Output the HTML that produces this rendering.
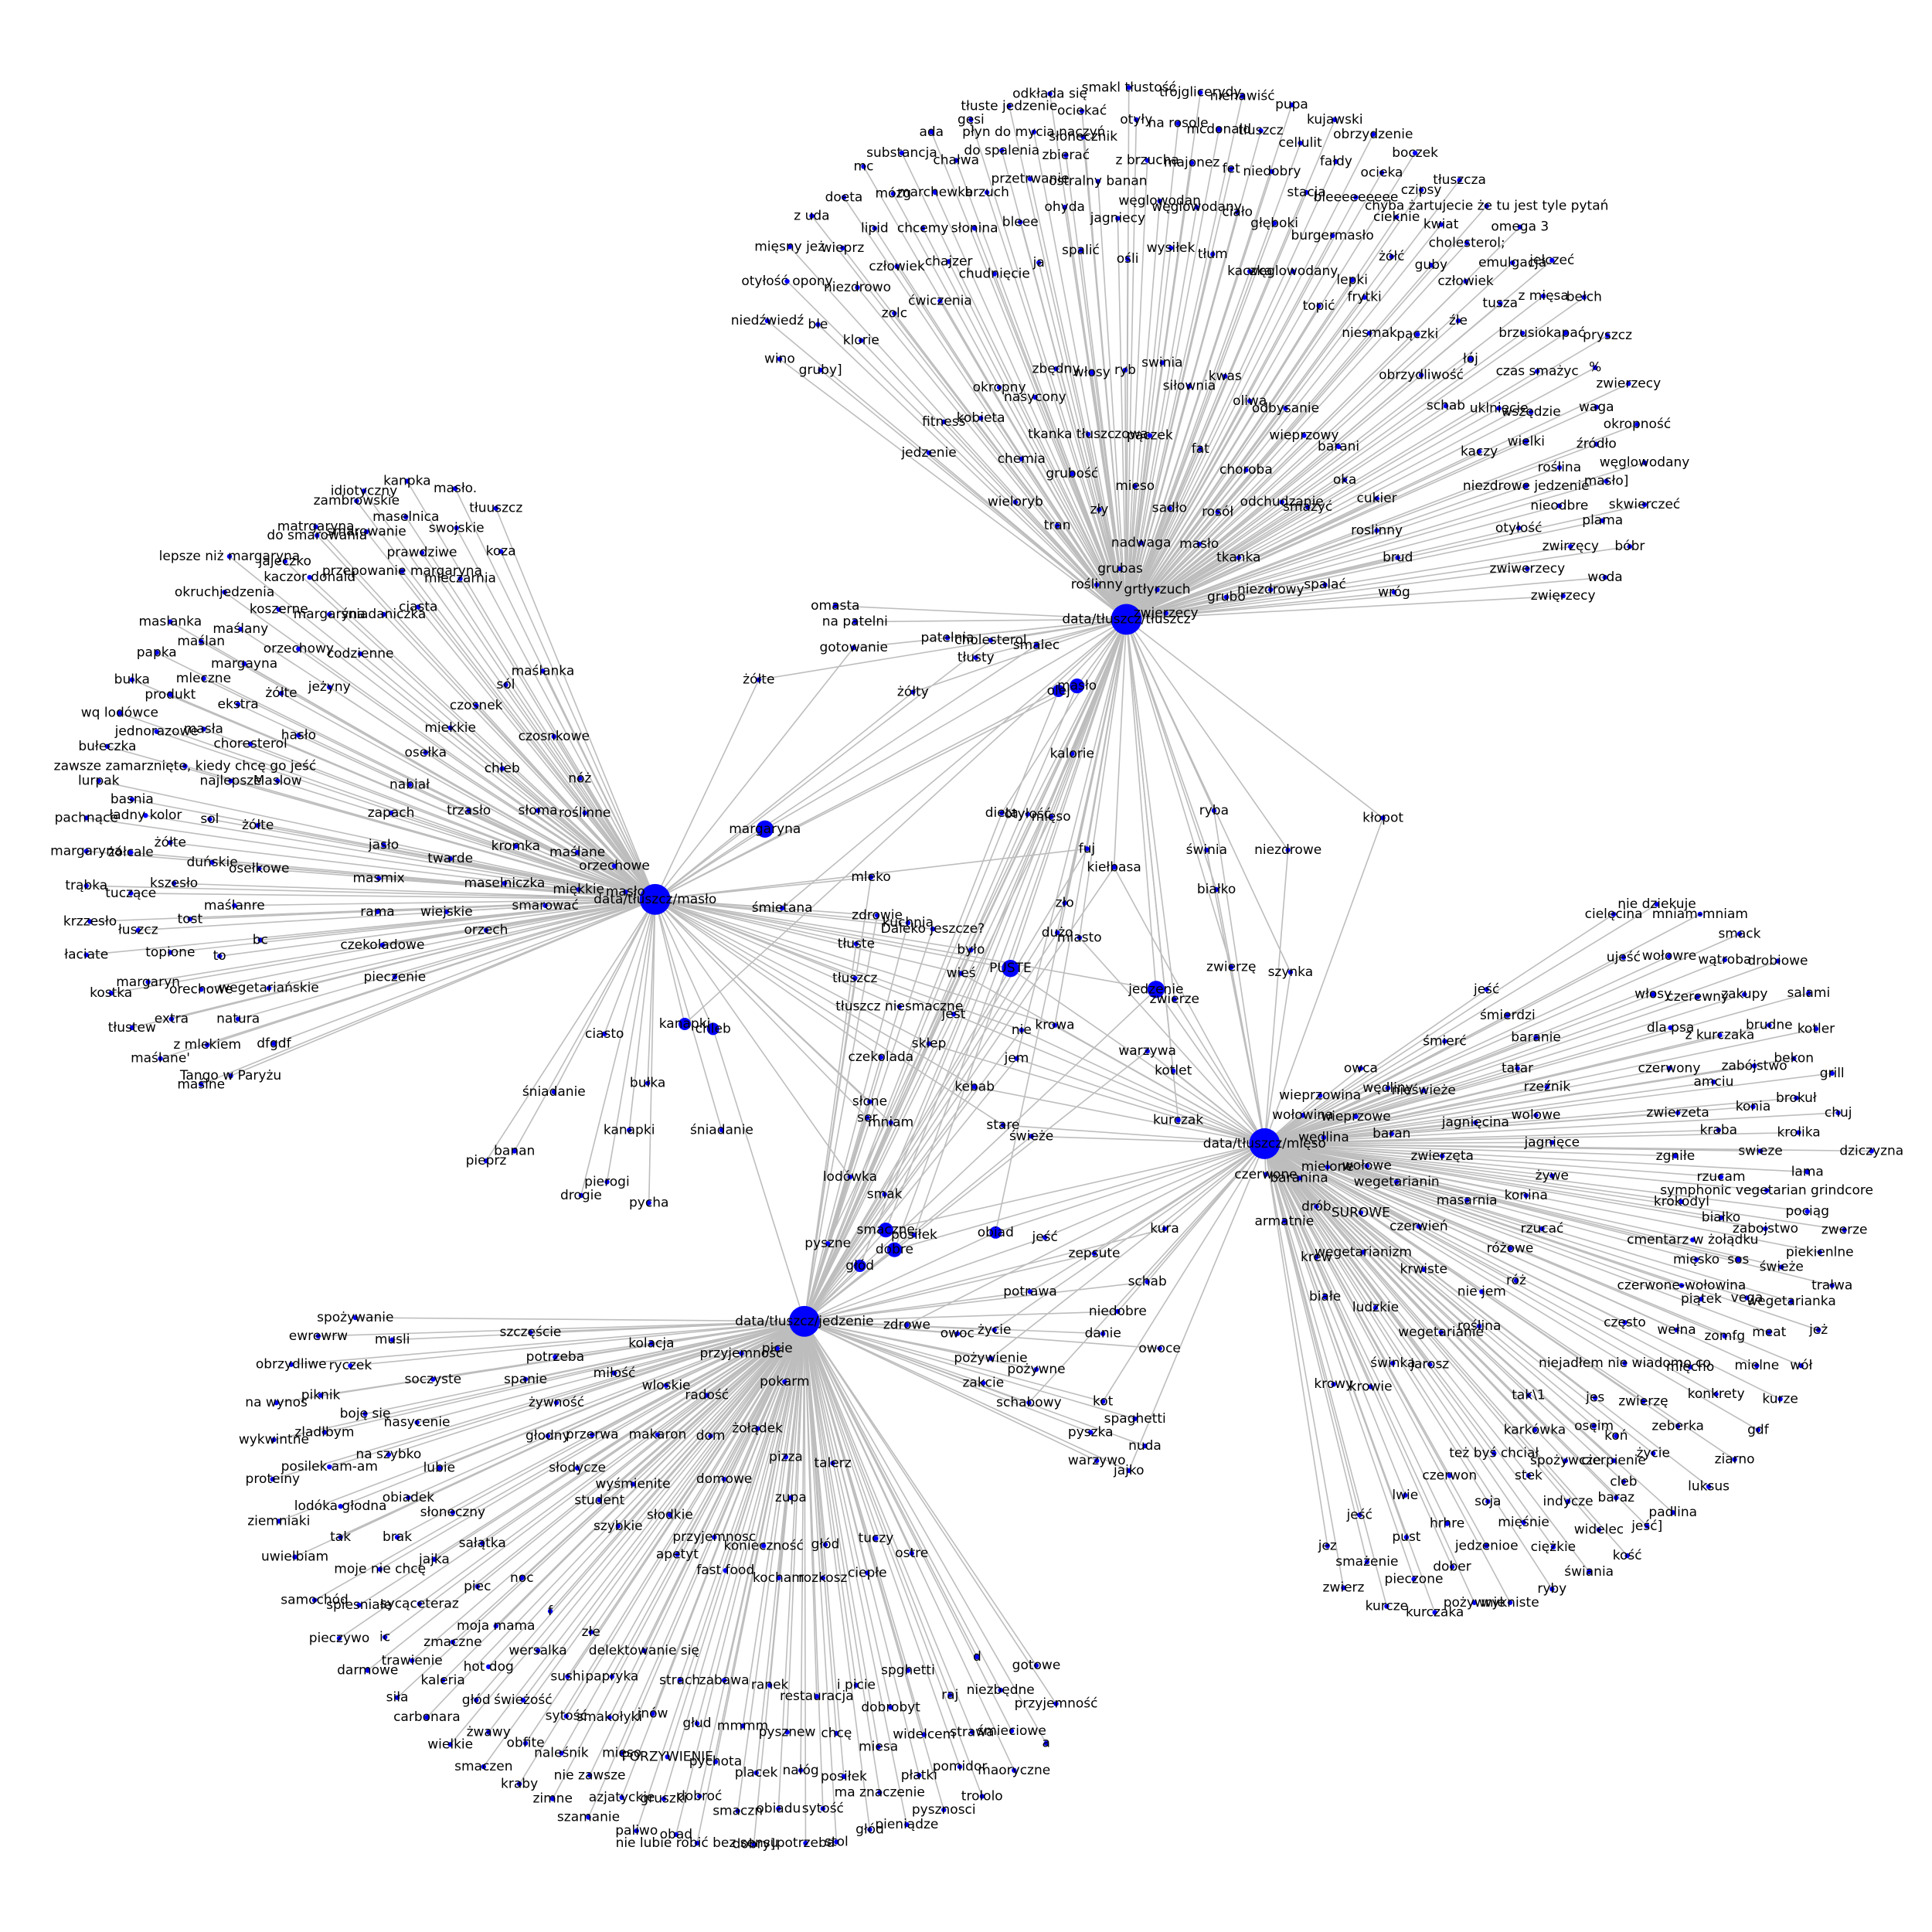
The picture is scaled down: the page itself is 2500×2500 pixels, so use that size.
<!DOCTYPE html>
<html><head><meta charset="utf-8"><style>
html,body{margin:0;padding:0;background:#fff;}
svg{display:block}
text{font-family:"DejaVu Sans","Liberation Sans",sans-serif;font-size:17px;fill:#000;text-anchor:middle;dominant-baseline:central}
</style></head><body>
<svg id="g" width="2500" height="2500" viewBox="0 0 2500 2500">
<g id="edges"></g>
<g id="dots"></g>
<g id="labels"></g>
</svg>
<script>
const hubLabels=["data/tłuszcz/tłuszcz","data/tłuszcz/masło","data/tłuszcz/mięso","data/tłuszcz/jedzenie"];
const hubX=[913,531,1025,652];
const hubY=[502,729,927,1071];
// nodes: label, layout x, layout y, connected hubs, size
const nodes=[
["smakl tłustość",915,71,[0]],["trójglicerydy",973,75,[0]],["nienawiść",1007,78,[0]],["pupa",1047,85,[0]],["odkłada się",851,76,[0]],["tłuste jedzenie",818,86,[0]],["ociekać",877,90,[0]],["otyły",921,97,[0]],["kujawski",1082,97,[0]],["gęsi",787,97,[0]],["na rosole",955,100,[0]],["mcdonald",988,105,[0]],["tłuszcz",1022,106,[0]],["obrzydzenie",1113,109,[0]],["ada",755,107,[0]],["płyn do mycia naczyń",838,107,[0]],["słonecznik",878,111,[0]],["cellulit",1054,116,[0]],["substancja",731,124,[0]],["do spalenia",812,122,[0]],["zbierać",864,126,[0]],["z brzucha",930,130,[0]],["majonez",966,132,[0]],["fałdy",1083,131,[0]],["boczek",1147,124,[0]],["chałwa",775,130,[0]],["mc",700,135,[0]],["fet",998,137,[0]],["niedobry",1031,139,[0]],["ocieka",1120,140,[0]],["tłuszcza",1183,146,[0]],["przetrwanie",835,145,[0]],["ostralny banan",890,147,[0]],["marchewka",758,156,[0]],["mózg",724,157,[0]],["brzuch",800,156,[0]],["stacja",1059,156,[0]],["bleeeeeeeee",1099,160,[0]],["czipsy",1152,154,[0]],["doeta",684,160,[0]],["chyba żartujecie że tu jest tyle pytań",1205,167,[0]],["ohyda",863,168,[0]],["węglowodan",940,163,[0]],["ciało",1003,172,[0]],["węglowodany",970,168,[0]],["cieknie",1132,176,[0]],["z uda",658,175,[0]],["jagniecy",906,177,[0]],["bleee",827,180,[0]],["głęboki",1033,181,[0]],["burgermasło",1080,191,[0]],["kwiat",1168,182,[0]],["omega 3",1232,184,[0]],["lipid",709,185,[0]],["chcemy",748,185,[0]],["słonina",790,185,[0]],["cholesterol;",1189,197,[0]],["mięsny jeż",640,200,[0]],["wieprz",683,201,[0]],["ja",842,213,[0]],["spalić",876,203,[0]],["wysiłek",949,201,[0]],["tłum",983,206,[0]],["żółć",1128,208,[0]],["guby",1160,215,[0]],["emulgacja",1226,213,[0]],["jełczeć",1258,211,[0]],["chajzer",769,212,[0]],["człowiek",727,216,[0]],["chudnięcie",806,222,[0]],["kaczka",1013,220,[0]],["węglowodany",1048,220,[0]],["ośli",914,210,[0]],["otyłość opony",638,228,[0]],["niezdrowo",695,233,[0]],["lepki",1096,227,[0]],["człowiek",1188,228,[0]],["tusza",1216,246,[0]],["z mięsa",1251,240,[0]],["bełch",1284,241,[0]],["ćwiczenia",762,244,[0]],["zolc",725,254,[0]],["frytki",1106,241,[0]],["topić",1069,248,[0]],["niedźwiedź",622,260,[0]],["ble",663,263,[0]],["źle",1182,260,[0]],["brzusio",1234,270,[0]],["kapać",1269,270,[0]],["pryszcz",1303,272,[0]],["klorie",698,276,[0]],["niesmak",1110,270,[0]],["pączki",1149,271,[0]],["wino",632,291,[0]],["gruby]",665,300,[0]],["swinia",942,294,[0]],["zbędny",856,299,[0]],["włosy",885,302,[0]],["ryb",912,300,[0]],["łój",1192,291,[0]],["kwas",993,305,[0]],["czas smażyc",1246,301,[0]],["%",1293,298,[0]],["obrzydliwość",1152,304,[0]],["siłownia",964,313,[0]],["zwierzecy",1320,311,[0]],["okropny",810,314,[0]],["nasycony",839,322,[0]],["oliwa",1013,325,[0]],["schab",1172,329,[0]],["odbysanie",1042,331,[0]],["uklnięcie",1215,331,[0]],["wszędzie",1241,334,[0]],["waga",1294,330,[0]],["fitness",765,342,[0]],["kobieta",795,339,[0]],["okropność",1327,344,[0]],["tkanka tłuszczowa",882,352,[0]],["pączek",932,353,[0]],["wieprzowy",1057,353,[0]],["wielki",1237,358,[0]],["fat",973,364,[0]],["barani",1085,362,[0]],["kaczy",1199,366,[0]],["źródło",1294,360,[0]],["jedzenie",753,367,[0]],["chemia",828,372,[0]],["roślina",1264,379,[0]],["węglowodany",1333,375,[0]],["choroba",1010,381,[0]],["mieso",920,394,[0]],["grubość",869,384,[0]],["oka",1090,389,[0]],["niezdrowe jedzenie",1237,394,[0]],["masło]",1302,390,[0]],["wieloryb",823,407,[0]],["cukier",1116,404,[0]],["sadło",948,412,[0]],["rosół",987,415,[0]],["odchudzanie",1039,407,[0]],["nieodbre",1264,410,[0]],["skwierczeć",1333,409,[0]],["zły",891,413,[0]],["tran",857,426,[0]],["smażyć",1060,411,[0]],["roslinny",1116,430,[0]],["plama",1299,422,[0]],["otyłość",1231,428,[0]],["nadwaga",925,440,[0]],["masło",972,441,[0]],["tkanka",1004,452,[0]],["zwirzęcy",1273,443,[0]],["bóbr",1321,443,[0]],["brud",1133,452,[0]],["grubas",908,461,[0]],["zwiwerzecy",1238,461,[0]],["roślinny",889,474,[0]],["grtłyrzuch",938,478,[0]],["niezdrowy",1030,478,[0]],["spalać",1074,474,[0]],["woda",1301,468,[0]],["grubo",994,484,[0]],["wróg",1130,480,[0]],["zwięrzecy",1267,483,[0]],["zwierzecy",945,497,[0]],
["kanpka",330,390,[1]],["masło.",369,396,[1]],["idiotyczny",295,398,[1]],["zambrowskie",289,406,[1]],["tłuuszcz",402,412,[1]],["maselnica",329,419,[1]],["swojskie",370,428,[1]],["matrgaryna",256,427,[1]],["do smarowania",257,434,[1]],["smarowanie",297,431,[1]],["prawdziwe",342,448,[1]],["koza",406,447,[1]],["lepsze niż margaryna",186,451,[1]],["jajeczko",231,455,[1]],["kaczor donald",251,468,[1]],["przepowanie margaryna",326,463,[1]],["mleczarnia",373,469,[1]],["okruchjedzenia",182,480,[1]],["koszerne",226,494,[1]],["margaryna",267,498,[1]],["śniadaniczka",311,498,[1]],["ciasta",339,492,[1]],["maslanka",138,504,[1]],["maślany",195,510,[1]],["maślan",163,520,[1]],["orzechowy",242,526,[1]],["codzienne",292,530,[1]],["papka",127,529,[1]],["margayna",198,538,[1]],["bulka",107,551,[1]],["mleczne",165,550,[1]],["żółte",228,562,[1]],["jeżyny",267,557,[1]],["sól",410,555,[1]],["maślanka",440,544,[1]],["produkt",138,563,[1]],["ekstra",193,571,[1]],["czosnek",386,572,[1]],["wq lodówce",97,578,[1]],["jednorazowe",127,593,[1]],["masła",165,591,[1]],["choresterol",203,603,[1]],["hasło",242,596,[1]],["miekkie",365,590,[1]],["czosnkowe",449,597,[1]],["bułeczka",87,605,[1]],["zawsze zamarznięte, kiedy chcę go jeść",150,621,[1]],["osełka",345,610,[1]],["chleb",407,623,[1]],["najlepsze",187,633,[1]],["Maslow",225,633,[1]],["lurpak",80,633,[1]],["nabiał",332,636,[1]],["nóż",470,631,[1]],["basnia",107,648,[1]],["trzasło",380,657,[1]],["słoma",436,657,[1]],["roślinne",474,659,[1]],["pachnące",70,663,[1]],["ładny kolor",118,661,[1]],["sol",170,664,[1]],["żółte",209,669,[1]],["zapach",317,659,[1]],["margaryna",70,690,[1]],["żółcale",106,691,[1]],["żółte",138,683,[1]],["duńskie",172,699,[1]],["jasło",311,685,[1]],["kromka",418,686,[1]],["maślane",468,691,[1]],["twarde",365,696,[1]],["osełkowe",210,704,[1]],["orzechowe",498,702,[1]],["masmix",307,712,[1]],["trąbka",70,718,[1]],["kszesło",141,716,[1]],["maselniczka",409,716,[1]],["miękkie",469,721,[1]],["masło",507,723,[1]],["smarować",442,734,[1]],["tuczące",106,724,[1]],["maślanre",190,734,[1]],["rama",306,739,[1]],["wiejskie",362,739,[1]],["krzzesło",73,747,[1]],["tost",154,745,[1]],["orzech",394,754,[1]],["łuszcz",112,754,[1]],["bc",211,762,[1]],["czekoladowe",310,766,[1]],["łaciate",70,774,[1]],["topione",138,772,[1]],["to",178,775,[1]],["margaryn",120,796,[1]],["pieczenie",320,792,[1]],["kostka",90,805,[1]],["orechowe",163,802,[1]],["wegetariańskie",218,801,[1]],["extra",139,826,[1]],["tłustew",107,833,[1]],["natura",193,826,[1]],["z mlekiem",168,847,[1]],["dfgdf",222,846,[1]],["maślane'",130,858,[1]],["Tango w Paryżu",187,872,[1]],["maślne",163,879,[1]],
["omasta",677,491,[0]],["na patelni",693,504,[0]],["gotowanie",692,525,[0,1]],["patelnia",768,517,[0]],["cholesterol",803,519,[0,1]],["smalec",840,523,[0,1]],["tłusty",791,533,[0]],["żółte",615,551,[0,1]],["żółty",740,561,[0,1]],["masło",873,556,[0,1,3],6],["olej",858,560,[0,1,3],5],["margaryna",620,672,[0,1],7],["kalorie",869,611,[0,3]],["dieta",812,659,[0,3]],["otyłość",833,660,[0,3]],["mięso",852,662,[0,3]],["ryba",984,657,[0,2]],["świnia",978,689,[0,2]],["niezdrowe",1044,689,[0,2]],["kłopot",1121,663,[0,2]],["fuj",881,688,[0,1,3]],["kiełbasa",903,703,[0,2,3]],["białko",986,721,[0,2]],["mleko",706,711,[1,3]],["śmietana",634,736,[1,0]],["zło",863,732,[0,3]],["zdrowie",711,742,[1,3]],["kuchnia",736,748,[1,3]],["Daleko jeszcze?",756,753,[1,3]],["dużo",857,756,[0,3]],["miasto",875,760,[0,2]],["tłuste",694,765,[1,3]],["było",787,770,[1,3]],["PUSTE",819,785,[0,1,2,3],7],["zwierzę",998,784,[0,2]],["szynka",1046,788,[0,2]],["jedzenie",937,802,[0,1,2,3],7],["zwierze",952,810,[0,2]],["wieś",779,789,[1,2,3]],["tłuszcz",693,793,[1,3]],["tłuszcz niesmaczne",729,816,[1,3]],["jest",773,822,[1,2]],["nie",828,835,[1,2,3]],["krowa",855,831,[0,1,2]],["kanapki",555,830,[1,0],5],["chleb",578,834,[1,3],5],["ciasto",490,838,[1]],["sklep",753,846,[0,1,2,3]],["czekolada",714,857,[1,3]],["jem",824,858,[0,2,3]],["warzywa",930,852,[2,3]],["kotlet",951,868,[0,2]],["kebab",790,881,[1,2,3]],["śniadanie",449,885,[1]],["bułka",525,878,[1]],["słone",705,893,[1,3]],["ser",703,906,[1,3]],["mniam",722,910,[0,1,3]],["stare",813,912,[1,2]],["świeże",836,921,[2,3]],["kurczak",955,908,[0,2]],["kanapki",510,916,[1]],["śniadanie",585,916,[1]],["banan",417,933,[1]],["pieprz",394,941,[1]],["pierogi",492,958,[1]],["drogie",471,969,[1]],["lodówka",689,954,[1,3]],["pycha",526,975,[1]],["smak",717,968,[0,3]],["smaczne",718,997,[0,2,3],6],["posiłek",741,1001,[0,3]],["obiad",807,999,[0,2,3],5],["jeść",847,1003,[2,3]],["kura",944,996,[2,3]],["pyszne",671,1008,[0,3]],["dobre",725,1013,[0,2,3],6],["głód",697,1026,[0,3],5],["zepsute",887,1016,[2,3]],["schab",930,1039,[2,3]],["potrawa",835,1047,[2,3]],["zdrowe",735,1074,[2,3]],["niedobre",906,1063,[2,3]],["owoc",776,1081,[3]],["życie",806,1078,[2,3]],["danie",894,1081,[3]],["owoce",940,1093,[3]],["pożywienie",803,1101,[2,3]],["pożywne",840,1110,[3]],["zakcie",797,1121,[3]],["kot",894,1136,[2,3]],["schabowy",834,1137,[2,3]],["spaghetti",920,1150,[3]],["pyszka",884,1161,[3]],["nuda",928,1172,[3]],["warzywo",889,1184,[3]],["jajko",915,1192,[2,3]],
["nie dziekuje",1343,733,[2]],["cielęcina",1308,741,[2]],["mniam-mniam",1378,741,[2]],["smack",1410,757,[2]],["ujeść",1316,776,[2]],["wołowre",1353,775,[2]],["wątroba",1398,778,[2]],["drobiowe",1441,779,[2]],["jeść",1205,802,[2]],["włosy",1340,806,[2]],["czerewny",1376,808,[2]],["zakupy",1414,806,[2]],["salami",1466,805,[2]],["śmierdzi",1222,823,[2]],["dla psa",1354,833,[2]],["z kurczaka",1394,839,[2]],["brudne",1434,831,[2]],["kotler",1472,834,[2]],["śmierć",1171,844,[2]],["baranie",1245,841,[2]],["owca",1103,866,[2]],["tatar",1230,866,[2]],["czerwony",1353,866,[2]],["zabójstwo",1422,864,[2]],["bekon",1454,858,[2]],["grill",1485,870,[2]],["wędliny",1125,882,[2]],["nieświeże",1154,884,[2]],["rzeźnik",1254,881,[2]],["amciu",1389,877,[2]],["brokuł",1456,890,[2]],["wieprzowina",1070,888,[2]],["konia",1421,897,[2]],["chuj",1490,902,[2]],["wołowina",1056,904,[2]],["wieprzowe",1099,905,[2]],["jagnięcina",1196,910,[2]],["wolowe",1245,904,[2]],["zwierzeta",1360,902,[2]],["krolika",1458,918,[2]],["kraba",1393,916,[2]],["baran",1128,919,[2]],["wędlina",1073,922,[2]],["jagnięce",1258,926,[2]],["swieze",1427,933,[2]],["dziczyzna",1517,933,[2]],["zwierzęta",1169,937,[2]],["zgniłe",1358,937,[2]],["lama",1465,950,[2]],["mielone",1076,946,[2]],["wołowe",1108,945,[2]],["czerwone",1026,952,[2]],["baranina",1053,955,[2]],["wegetarianin",1132,958,[2]],["żywe",1258,953,[2]],["rzucam",1395,954,[2]],["symphonic vegetarian grindcore",1432,965,[2]],["masarnia",1189,973,[2]],["konina",1237,969,[2]],["krokodyl",1363,974,[2]],["pociąg",1465,982,[2]],["drób",1067,978,[2]],["SUROWE",1103,983,[2]],["armatnie",1041,990,[2]],["czerwień",1150,994,[2]],["rzucać",1250,996,[2]],["białko",1395,987,[2]],["zabojstwo",1431,996,[2]],["zwerze",1495,997,[2]],["różowe",1224,1012,[2]],["cmentarz w żołądku",1372,1005,[2]],["krew",1067,1019,[2]],["wegetarianizm",1105,1015,[2]],["piekienlne",1475,1015,[2]],["krwiste",1154,1029,[2]],["mięsko",1375,1021,[2]],["sos",1409,1021,[2]],["świeże",1444,1027,[2]],["róż",1229,1038,[2]],["czerwone-wołowina",1363,1042,[2]],["trałwa",1485,1042,[2]],["nie jem",1201,1047,[2]],["białe",1074,1051,[2]],["ludzkie",1115,1060,[2]],["piątek",1379,1053,[2]],["vega",1416,1052,[2]],["wegetarianka",1452,1055,[2]],["roślina",1199,1075,[2]],["wegetarianie",1168,1080,[2]],["często",1317,1072,[2]],["wełna",1359,1078,[2]],["zomfg",1398,1083,[2]],["meat",1434,1080,[2]],["jeż",1474,1078,[2]],["świnka",1129,1105,[2]],["jarosz",1159,1106,[2]],["niejadłem nie wiadomo co",1317,1105,[2]],["mięcho",1370,1108,[2]],["mielne",1424,1107,[2]],["wół",1460,1107,[2]],["krowy",1081,1122,[2]],["krowie",1111,1124,[2]],["tak\\1",1239,1131,[2]],["jes",1293,1133,[2]],["zwierzę",1332,1136,[2]],["konkrety",1391,1130,[2]],["kurze",1443,1134,[2]],["karkówka",1244,1159,[2]],["zeberka",1360,1156,[2]],["gdf",1425,1159,[2]],["osęim",1292,1156,[2]],["koń",1310,1164,[2]],["życie",1340,1178,[2]],["ziarno",1406,1183,[2]],["też byś chciał",1211,1178,[2]],["spożywcze",1269,1184,[2]],["cierpienie",1308,1184,[2]],["czerwon",1175,1196,[2]],["stek",1239,1196,[2]],["cleb",1316,1201,[2]],["luksus",1385,1205,[2]],["lwie",1139,1212,[2]],["soja",1206,1217,[2]],["indycze",1271,1217,[2]],["baraz",1310,1214,[2]],["padlina",1356,1226,[2]],["jeść",1102,1228,[2]],["hrhre",1173,1235,[2]],["mięśnie",1235,1234,[2]],["widelec",1296,1240,[2]],["jeść]",1335,1237,[2]],["pust",1140,1246,[2]],["jedzenioe",1205,1253,[2]],["ciężkie",1259,1254,[2]],["kość",1319,1261,[2]],["jez",1076,1253,[2]],["smażenie",1108,1266,[2]],["dober",1177,1270,[2]],["świania",1288,1274,[2]],["pieczone",1146,1280,[2]],["zwierz",1089,1287,[2]],["pożywnie",1195,1299,[2]],["wykniste",1224,1299,[2]],["ryby",1258,1288,[2]],["kurcze",1124,1302,[2]],["kurczaka",1163,1307,[2]],
["spożywanie",288,1068,[3]],["szczęście",430,1080,[3]],["ewrewrw",258,1083,[3]],["musli",318,1086,[3]],["kolacja",528,1089,[3]],["przyjemność",601,1097,[3]],["picie",630,1093,[3]],["obrzydliwe",236,1106,[3]],["ryczek",284,1107,[3]],["potrzeba",450,1100,[3]],["soczyste",351,1118,[3]],["miłość",498,1113,[3]],["spanie",426,1118,[3]],["wloskie",540,1123,[3]],["pokarm",636,1120,[3]],["piknik",260,1131,[3]],["radość",573,1131,[3]],["na wynos",224,1137,[3]],["boję się",296,1146,[3]],["żywność",451,1137,[3]],["nasycenie",338,1153,[3]],["zladłbym",263,1161,[3]],["wykwintne",222,1167,[3]],["przerwa",480,1163,[3]],["głodny",444,1164,[3]],["makaron",533,1163,[3]],["dom",576,1164,[3]],["żołądek",614,1158,[3]],["na szybko",315,1179,[3]],["posilek am-am",267,1189,[3]],["lubie",356,1190,[3]],["pizza",637,1181,[3]],["talerz",675,1186,[3]],["proteiny",221,1199,[3]],["słodycze",468,1190,[3]],["wyśmienite",513,1203,[3]],["domowe",587,1199,[3]],["obiadek",331,1214,[3]],["student",486,1216,[3]],["lodóka głodna",276,1221,[3]],["słoneczny",367,1226,[3]],["zupa",641,1214,[3]],["ziemniaki",226,1233,[3]],["słodkie",543,1228,[3]],["szybkie",501,1237,[3]],["przyjemnosc",579,1246,[3]],["tak",276,1246,[3]],["brak",322,1246,[3]],["konieczność",619,1253,[3]],["głód",669,1252,[3]],["tuczy",710,1247,[3]],["uwielbiam",239,1262,[3]],["jajka",352,1264,[3]],["apetyt",549,1260,[3]],["ostre",739,1259,[3]],["sałątka",391,1251,[3]],["moje nie chcę",308,1272,[3]],["fast food",588,1273,[3]],["kocham",631,1279,[3]],["rozkosz",667,1279,[3]],["ciepłe",703,1275,[3]],["piec",387,1286,[3]],["noc",423,1279,[3]],["samochód",255,1297,[3]],["spiesniałe",291,1301,[3]],["sycąceteraz",340,1300,[3]],["f",446,1306,[3]],["moja mama",402,1318,[3]],["pieczywo",275,1328,[3]],["ic",312,1327,[3]],["zmaczne",367,1331,[3]],["złe",479,1323,[3]],["wersalka",436,1338,[3]],["delektowanie się",522,1338,[3]],["trawienie",334,1346,[3]],["hot dog",396,1351,[3]],["sushi",460,1359,[3]],["papryka",496,1359,[3]],["strach",551,1362,[3]],["zabawa",587,1362,[3]],["ranek",624,1366,[3]],["darmowe",298,1354,[3]],["spghetti",736,1354,[3]],["d",792,1343,[3]],["gotowe",840,1350,[3]],["niezbędne",811,1370,[3]],["restauracja",662,1375,[3]],["i picie",694,1366,[3]],["siła",322,1376,[3]],["kaleria",359,1362,[3]],["głód",386,1378,[3]],["świeżość",424,1378,[3]],["sytość",459,1391,[3]],["smakołyki",494,1392,[3]],["raj",770,1374,[3]],["przyjemność",856,1381,[3]],["carbonara",346,1392,[3]],["dobrobyt",722,1384,[3]],["żwawy",396,1404,[3]],["obfite",426,1413,[3]],["głud",565,1397,[3]],["mmmm",602,1399,[3]],["pysznew",638,1404,[3]],["chcę",678,1405,[3]],["widelcem",749,1406,[3]],["strawa",788,1404,[3]],["śmieciowe",820,1403,[3]],["wielkie",365,1414,[3]],["jnów",529,1389,[3]],["a",848,1413,[3]],["naleśnik",455,1421,[3]],["mięso",504,1421,[3]],["PORZYWIENIE",541,1424,[3]],["pychota",580,1428,[3]],["miesa",712,1416,[3]],["smaczen",392,1432,[3]],["pomidor",778,1432,[3]],["maoryczne",822,1435,[3]],["kraby",421,1446,[3]],["nie zawsze",478,1439,[3]],["placek",613,1437,[3]],["nałóg",649,1435,[3]],["posiłek",684,1440,[3]],["płatki",745,1439,[3]],["zimne",448,1458,[3]],["azjatyckie",504,1457,[3]],["gruszki",538,1458,[3]],["dobroć",567,1456,[3]],["ma znaczenie",713,1453,[3]],["szamanie",477,1473,[3]],["smaczn",598,1468,[3]],["obiadu",631,1466,[3]],["sytość",667,1466,[3]],["pysznosci",765,1467,[3]],["trololo",796,1456,[3]],["paliwo",516,1484,[3]],["obad",548,1487,[3]],["pieniądze",735,1479,[3]],["głód",705,1483,[3]],["nie lubie robić bez sensu",565,1494,[3]],["dobry]",611,1495,[3]],["potrzeba",653,1494,[3]],["stol",678,1493,[3]]
];
const S=2500/1566;
const sx=v=>v*S, sy=v=>v*S;
const NS="http://www.w3.org/2000/svg";
const E=document.getElementById('edges'),D=document.getElementById('dots'),L=document.getElementById('labels');
nodes.forEach(n=>{
  n[3].forEach(h=>{
    const l=document.createElementNS(NS,'line');
    l.setAttribute('x1',sx(hubX[h]));l.setAttribute('y1',sy(hubY[h]));
    l.setAttribute('x2',sx(n[1]));l.setAttribute('y2',sy(n[2]));
    l.setAttribute('stroke','#bdbdbd');l.setAttribute('stroke-width','1.6');
    
    
    E.appendChild(l);
  });
});
nodes.forEach(n=>{
  const c=document.createElementNS(NS,'circle');
  c.setAttribute('cx',sx(n[1]));c.setAttribute('cy',sy(n[2]));
  c.setAttribute('r',(n[4]||2)*S);c.setAttribute('fill','#0000ff');
  
  
  D.appendChild(c);
  const t=document.createElementNS(NS,'text');
  t.setAttribute('x',sx(n[1]));t.setAttribute('y',sy(n[2]));
  t.textContent=n[0];
  
  
  L.appendChild(t);
});
hubLabels.forEach((h,i)=>{
  const c=document.createElementNS(NS,'circle');
  c.setAttribute('cx',sx(hubX[i]));c.setAttribute('cy',sy(hubY[i]));
  c.setAttribute('r',12.5*S);c.setAttribute('fill','#0000ff');
  
  
  D.appendChild(c);
  const t=document.createElementNS(NS,'text');
  t.setAttribute('x',sx(hubX[i]));t.setAttribute('y',sy(hubY[i]));
  t.textContent=h;
  
  
  L.appendChild(t);
});
</script>
</body></html>
